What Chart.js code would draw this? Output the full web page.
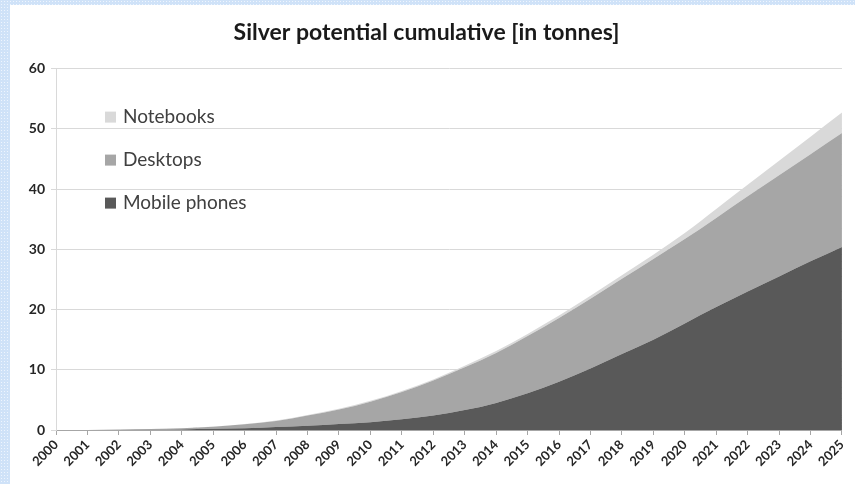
<!DOCTYPE html>
<html>
<head>
<meta charset="utf-8">
<script src="https://cdn.jsdelivr.net/npm/chart.js@4.4.1/dist/chart.umd.min.js"></script>
<style>
  html, body {
    margin: 0;
    padding: 0;
    width: 855px;
    height: 484px;
    overflow: hidden;
    background-color: #cfe2f8;
    background-image: radial-gradient(#eef5fe 1px, transparent 1px);
    background-size: 3px 3px;
  }
  #frame {
    position: absolute;
    left: 10px;
    top: 5px;
    width: 845px;
    height: 479px;
    background: #ffffff;
  }
</style>
</head>
<body>
<div id="frame"><canvas id="silverChart" width="845" height="479"></canvas></div>
<script>
// Years on the x axis
const years = ["2000", "2001", "2002", "2003", "2004", "2005", "2006", "2007", "2008", "2009",
  "2010", "2011", "2012", "2013", "2014", "2015", "2016", "2017", "2018", "2019",
  "2020", "2021", "2022", "2023", "2024", "2025"];

// Silver potential per device group, tonnes
const mobilePhones = [0, 0, 0.02, 0.05, 0.1, 0.2, 0.3, 0.5, 0.7, 1.0,
  1.3, 1.8, 2.4, 3.3, 4.5, 6.1, 8.0, 10.2, 12.6, 15.0,
  17.7, 20.4, 23.0, 25.5, 28.0, 30.4];
const desktops = [0, 0.02, 0.05, 0.1, 0.2, 0.35, 0.65, 1.0, 1.7, 2.4,
  3.4, 4.5, 5.8, 7.1, 8.3, 9.5, 10.6, 11.6, 12.5, 13.4,
  14.0, 14.8, 15.8, 16.8, 17.8, 18.9];
const notebooks = [0, 0, 0, 0.01, 0.02, 0.03, 0.05, 0.07, 0.1, 0.12,
  0.15, 0.18, 0.2, 0.25, 0.3, 0.35, 0.4, 0.5, 0.6, 0.7,
  1.0, 1.5, 1.9, 2.4, 2.9, 3.4];

const yTicks = [0, 10, 20, 30, 40, 50, 60];

const FONT = "Lato";

// legend drawn inside the plot, top-left, Notebooks first
const insideLegend = {
  id: "insideLegend",
  afterDatasetsDraw(chart) {
    const { ctx, chartArea } = chart;
    const items = chart.data.datasets.slice().reverse();
    ctx.save();
    ctx.font = "19px " + FONT;
    ctx.textBaseline = "middle";
    items.forEach((ds, i) => {
      const x = chartArea.left + 49;
      const y = chartArea.top + 48 + i * 43;
      ctx.fillStyle = ds.backgroundColor;
      ctx.fillRect(x, y - 5, 11, 11);
      ctx.fillStyle = "#404040";
      ctx.fillText(ds.label, x + 18, y);
    });
    ctx.restore();
  }
};

const ctx = document.getElementById("silverChart").getContext("2d");

new Chart(ctx, {
  type: "line",
  data: {
    labels: years,
    datasets: [
      { label: "Mobile phones", data: mobilePhones, backgroundColor: "#595959", fill: "origin" },
      { label: "Desktops", data: desktops, backgroundColor: "#a6a6a6", fill: "-1" },
      { label: "Notebooks", data: notebooks, backgroundColor: "#d9d9d9", fill: "-1" }
    ]
  },
  options: {
    responsive: false,
    animation: false,
    layout: { padding: { left: 0, right: 12, top: 0, bottom: 0 } },
    elements: {
      point: { radius: 0 },
      line: { borderWidth: 0, tension: 0.3, cubicInterpolationMode: "monotone" }
    },
    plugins: {
      legend: { display: false },
      tooltip: { enabled: false },
      title: {
        display: true,
        text: "Silver potential cumulative [in tonnes]",
        color: "#1a1a1a",
        font: { family: FONT, size: 23, weight: "bold" },
        padding: { top: 14, bottom: 22 }
      }
    },
    scales: {
      x: {
        grid: { display: true, drawOnChartArea: false, tickLength: 5, color: "#a6a6a6" },
        border: { color: "#a6a6a6" },
        ticks: {
          autoSkip: false,
          minRotation: 45,
          maxRotation: 45,
          color: "#262626",
          padding: 2,
          font: { family: FONT, size: 13, weight: "bold" }
        },
        afterFit(scale) { scale.height = 54; }
      },
      y: {
        stacked: true,
        min: 0,
        max: 60,
        afterBuildTicks(scale) { scale.ticks = yTicks.map(v => ({ value: v })); },
        grid: { color: "#d9d9d9", tickLength: 5 },
        border: { color: "#d9d9d9" },
        ticks: {
          color: "#262626",
          padding: 6,
          font: { family: FONT, size: 14, weight: "bold" }
        },
        afterFit(scale) { scale.width = 46; }
      }
    }
  },
  plugins: [insideLegend]
});
</script>
</body>
</html>
